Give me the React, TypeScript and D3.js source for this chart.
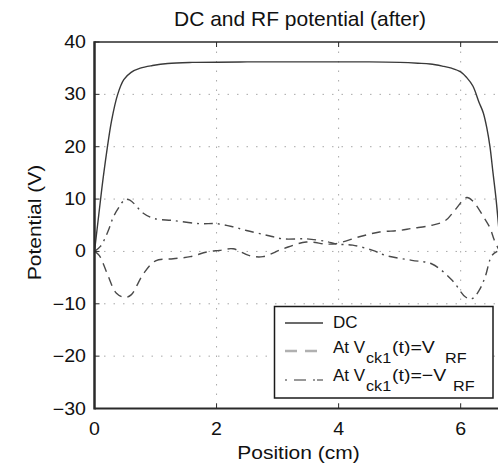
import React, { useEffect, useRef } from 'react';
import * as d3 from 'd3';

// chart size and frame
const W = 498;
const H = 467;

// axis ticks
const xTicks = [0, 2, 4, 6];
const yTicks = [-30, -20, -10, 0, 10, 20, 30, 40];

// DC potential along the trap (cm, V)
const dcPos = [0, 0.03, 0.07, 0.12, 0.2, 0.28, 0.38, 0.48, 0.6, 0.75, 0.95, 1.2, 1.6, 2.5, 3.5, 4.5, 5.0, 5.3, 5.5, 5.7, 5.85, 6.0, 6.1, 6.2, 6.3, 6.37, 6.43, 6.48, 6.53, 6.58, 6.62, 6.66];
const dcVal = [0, 3, 7, 12, 19, 25, 30, 32.8, 34.2, 35, 35.5, 35.9, 36.1, 36.2, 36.2, 36.2, 36.1, 35.95, 35.8, 35.4, 35, 34.3, 33.2, 31.6, 28.5, 26.5, 23.5, 20, 15, 10, 5, 0];

// RF potential at Vck1(t) = VRF
const rfPos = [0, 0.08, 0.2, 0.36, 0.5, 0.6, 0.8, 1.0, 1.29, 1.57, 1.84, 2.05, 2.27, 2.54, 2.76, 3.09, 3.47, 3.8, 3.96, 4.34, 4.67, 4.99, 5.2, 5.53, 5.75, 5.9, 6.1, 6.2, 6.37, 6.48, 6.55, 6.64];
const rfVal = [0, -0.8, -4.0, -8.0, -8.8, -8.3, -4.3, -1.8, -1.4, -1.0, -0.1, 0.2, 0.5, -0.8, -1.0, 0.5, 1.8, 1.4, 1.5, 2.8, 3.7, 4.0, 4.4, 5.0, 5.9, 7.8, 10.3, 9.6, 6.7, 4.5, 2.2, 0];

// RF potential at Vck1(t) = -VRF
const negPos = [0, 0.1, 0.22, 0.31, 0.41, 0.5, 0.58, 0.8, 0.97, 1.29, 1.73, 2.0, 2.27, 2.49, 2.82, 3.09, 3.47, 3.8, 3.96, 4.23, 4.56, 4.78, 5.2, 5.53, 5.86, 6.08, 6.19, 6.3, 6.4, 6.51, 6.6];
const negVal = [0, 1.0, 3.8, 6.6, 8.6, 9.9, 9.8, 7.3, 6.3, 5.9, 5.3, 5.3, 4.7, 4.0, 3.1, 2.4, 2.4, 1.9, 1.4, 1.2, 0.2, -0.8, -1.7, -2.4, -5.5, -8.7, -9.0, -7.5, -4.9, -0.8, 0];

const FONT = 'Liberation Sans, Arial, Helvetica, sans-serif';

const App = () => {
  const svgRef = useRef<SVGSVGElement | null>(null);

  useEffect(() => {
    const svg = d3.select(svgRef.current);
    svg.selectAll('*').remove();

    const x = d3.scaleLinear().domain([0, 7]).range([94.5, 521.7]);
    const y = d3.scaleLinear().domain([-30, 40]).range([408.5, 42]);
    const x0 = x(0);
    const y0 = y(-30);
    const y1 = y(40);

    svg.append('rect').attr('width', W).attr('height', H).attr('fill', '#fff');

    svg.append('clipPath').attr('id', 'plotclip')
      .append('rect')
      .attr('x', x0).attr('y', y1)
      .attr('width', W - x0).attr('height', y0 - y1);

    // dotted grid
    const grid = svg.append('g')
      .attr('stroke', '#a8a8a8')
      .attr('stroke-width', 1)
      .attr('stroke-dasharray', '1.5,8');
    grid.selectAll('line.v')
      .data(xTicks.filter(d => d !== 0))
      .join('line')
      .attr('x1', d => x(d)).attr('x2', d => x(d))
      .attr('y1', y1).attr('y2', y0);
    grid.selectAll('line.h')
      .data(yTicks.filter(d => d !== -30 && d !== 40))
      .join('line')
      .attr('class', 'h')
      .attr('x1', x0).attr('x2', W)
      .attr('y1', d => y(d)).attr('y2', d => y(d));

    // curves
    const line = d3.line<[number, number]>()
      .x(d => x(d[0]))
      .y(d => y(d[1]))
      .curve(d3.curveCatmullRom.alpha(0.5));

    const plot = svg.append('g').attr('clip-path', 'url(#plotclip)').attr('fill', 'none');
    plot.append('path')
      .attr('d', line(dcPos.map((p, i) => [p, dcVal[i]] as [number, number])))
      .attr('stroke', '#3a3a3a')
      .attr('stroke-width', 1.4);
    plot.append('path')
      .attr('d', line(rfPos.map((p, i) => [p, rfVal[i]] as [number, number])))
      .attr('stroke', '#4a4a4a')
      .attr('stroke-width', 1.4)
      .attr('stroke-dasharray', '9,6');
    plot.append('path')
      .attr('d', line(negPos.map((p, i) => [p, negVal[i]] as [number, number])))
      .attr('stroke', '#4a4a4a')
      .attr('stroke-width', 1.4)
      .attr('stroke-dasharray', '9,5,2,5');

    // axes frame
    const axis = svg.append('g').attr('stroke', '#2a2a2a');
    axis.append('line').attr('x1', x0).attr('x2', W).attr('y1', y1).attr('y2', y1).attr('stroke-width', 1.5);
    axis.append('line').attr('x1', x0).attr('x2', W).attr('y1', y0).attr('y2', y0).attr('stroke-width', 2);
    axis.append('line').attr('x1', x0).attr('x2', x0).attr('y1', y1 - 0.75).attr('y2', y0 + 1).attr('stroke-width', 2.5);

    // inward tick marks
    axis.selectAll('line.xb')
      .data(xTicks)
      .join('line')
      .attr('class', 'xb')
      .attr('x1', d => x(d)).attr('x2', d => x(d))
      .attr('y1', y0).attr('y2', y0 - 5)
      .attr('stroke-width', 1);
    axis.selectAll('line.xt')
      .data(xTicks)
      .join('line')
      .attr('class', 'xt')
      .attr('x1', d => x(d)).attr('x2', d => x(d))
      .attr('y1', y1).attr('y2', y1 + 5)
      .attr('stroke-width', 1);
    axis.selectAll('line.yl')
      .data(yTicks)
      .join('line')
      .attr('class', 'yl')
      .attr('x1', x0).attr('x2', x0 + 5)
      .attr('y1', d => y(d)).attr('y2', d => y(d))
      .attr('stroke-width', 1);

    const txt = svg.append('g').attr('font-family', FONT).attr('fill', '#111');

    // tick labels
    txt.selectAll('text.yt')
      .data(yTicks)
      .join('text')
      .attr('class', 'yt')
      .attr('transform', d => `translate(86,${y(d) + 6}) scale(1.12,1)`)
      .attr('text-anchor', 'end')
      .attr('font-size', 17.5)
      .text(d => (d < 0 ? '\u2212' + Math.abs(d) : String(d)));
    txt.selectAll('text.xt')
      .data(xTicks)
      .join('text')
      .attr('class', 'xt')
      .attr('transform', d => `translate(${x(d)},435) scale(1.12,1)`)
      .attr('text-anchor', 'middle')
      .attr('font-size', 17.5)
      .text(d => String(d));

    // title and axis labels
    txt.append('text')
      .attr('transform', 'translate(300,26) scale(1.05,1)')
      .attr('text-anchor', 'middle')
      .attr('font-size', 20)
      .text('DC and RF potential (after)');
    txt.append('text')
      .attr('transform', 'translate(298.5,459) scale(1.2,1)')
      .attr('text-anchor', 'middle')
      .attr('font-size', 17.5)
      .text('Position (cm)');
    txt.append('text')
      .attr('transform', 'translate(41,222.5) rotate(-90) scale(1.2,1)')
      .attr('text-anchor', 'middle')
      .attr('font-size', 17.5)
      .text('Potential (V)');

    // legend
    const lg = svg.append('g');
    lg.append('rect')
      .attr('x', 274.5).attr('y', 306.5)
      .attr('width', 218.5).attr('height', 91.5)
      .attr('fill', '#fff')
      .attr('stroke', '#1a1a1a')
      .attr('stroke-width', 1.5);
    lg.append('line').attr('x1', 285).attr('x2', 323).attr('y1', 323).attr('y2', 323)
      .attr('stroke', '#3a3a3a').attr('stroke-width', 1.3);
    lg.append('line').attr('x1', 285).attr('x2', 323).attr('y1', 351).attr('y2', 351)
      .attr('stroke', '#b0b0b0').attr('stroke-width', 2.5).attr('stroke-dasharray', '12,8');
    lg.append('line').attr('x1', 285).attr('x2', 323).attr('y1', 380).attr('y2', 380)
      .attr('stroke', '#777').attr('stroke-width', 1.3).attr('stroke-dasharray', '2,7,12,7,2');

    const lt = lg.append('g').attr('font-family', FONT).attr('fill', '#111').attr('font-size', 17);
    lt.append('text').attr('x', 333).attr('y', 328).text('DC');

    const row = (base: number, mid: string, sub2x: number) => {
      lt.append('text').attr('x', 333).attr('y', base).text('At V');
      lt.append('text').attr('transform', `translate(366,${base + 10}) scale(1.08,1)`).attr('font-size', 15).text('ck1');
      lt.append('text').attr('transform', `translate(392,${base}) scale(1.15,1)`).text(mid);
      lt.append('text').attr('transform', `translate(${sub2x},${base + 10}) scale(1.08,1)`).attr('font-size', 15).text('RF');
    };
    row(353, '(t)=V', 445);
    row(381, '(t)=\u2212V', 453);
  }, []);

  return (
    <div style={{ position: 'fixed', top: 0, left: 0, width: W, height: H, background: '#fff' }}>
      <svg ref={svgRef} width={W} height={H} viewBox={`0 0 ${W} ${H}`} />
    </div>
  );
};

export default App;
